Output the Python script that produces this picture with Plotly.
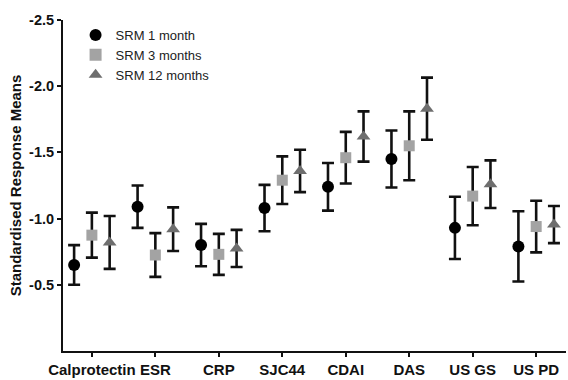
import plotly.graph_objects as go

categories = ["Calprotectin", "ESR", "CRP", "SJC44", "CDAI", "DAS", "US GS", "US PD"]

srm_1m = [-0.65, -1.09, -0.80, -1.08, -1.24, -1.45, -0.93, -0.79]
err_1m = [0.15, 0.16, 0.16, 0.175, 0.18, 0.215, 0.235, 0.265]

srm_3m = [-0.875, -0.725, -0.73, -1.29, -1.46, -1.55, -1.17, -0.94]
err_3m = [0.17, 0.165, 0.155, 0.18, 0.195, 0.26, 0.22, 0.195]

srm_12m = [-0.82, -0.92, -0.775, -1.36, -1.62, -1.83, -1.26, -0.955]
err_12m = [0.20, 0.165, 0.14, 0.16, 0.19, 0.235, 0.18, 0.14]

y_ticks = [-2.5, -2.0, -1.5, -1.0, -0.5]

series = [
    ("SRM 1 month", srm_1m, err_1m, "circle", "#000000", 12, -0.28),
    ("SRM 3 months", srm_3m, err_3m, "square", "#a3a3a3", 11, 0.0),
    ("SRM 12 months", srm_12m, err_12m, "triangle-up", "#6e6e6e", 12, 0.28),
]

fig = go.Figure()
idx = list(range(len(categories)))

for name, vals, errs, symbol, color, size, offset in series:
    xs = [i + offset for i in idx]
    fig.add_trace(go.Scatter(
        x=xs, y=vals, mode="markers", showlegend=False,
        marker=dict(symbol=symbol, color=color, size=size, line=dict(width=0)),
        error_y=dict(type="data", array=errs, visible=True,
                     color="#111111", thickness=2.6, width=6),
    ))

# legend entries (markers only)
for name, vals, errs, symbol, color, size, offset in series:
    fig.add_trace(go.Scatter(
        x=[None], y=[None], mode="markers", name=name,
        marker=dict(symbol=symbol, color=color, size=size - 1, line=dict(width=0)),
    ))

font_family = "Liberation Sans, Arial, sans-serif"

fig.update_layout(
    width=568, height=380,
    margin=dict(l=63, r=2, t=20, b=24),
    paper_bgcolor="white", plot_bgcolor="white",
    font=dict(family=font_family, color="#111111"),
    legend=dict(x=0.025, y=1.0, xanchor="left", yanchor="top",
                font=dict(size=13, color="#222222"), bgcolor="rgba(0,0,0,0)",
                itemsizing="constant", tracegroupgap=0),
    xaxis=dict(
        range=[-0.455, 7.47], tickmode="array", tickvals=idx, ticktext=categories,
        showgrid=False, zeroline=False, showline=True, linecolor="#111111", linewidth=2,
        ticks="outside", ticklen=4, tickwidth=2, tickcolor="#111111",
        tickfont=dict(size=15, family=font_family, color="#111111", weight="bold"),
    ),
    yaxis=dict(
        range=[0, -2.5], tickmode="array", tickvals=y_ticks,
        ticktext=[f"{v:.1f}" for v in y_ticks],
        showgrid=False, zeroline=False, showline=True, linecolor="#111111", linewidth=2,
        ticks="outside", ticklen=4, tickwidth=2, tickcolor="#111111",
        tickfont=dict(size=14.5, family=font_family, color="#111111", weight="bold"),
        title=dict(text="Standardised Response Means", standoff=4,
                   font=dict(size=15, family=font_family, color="#111111", weight="bold")),
    ),
)

fig.write_html("out.html")
